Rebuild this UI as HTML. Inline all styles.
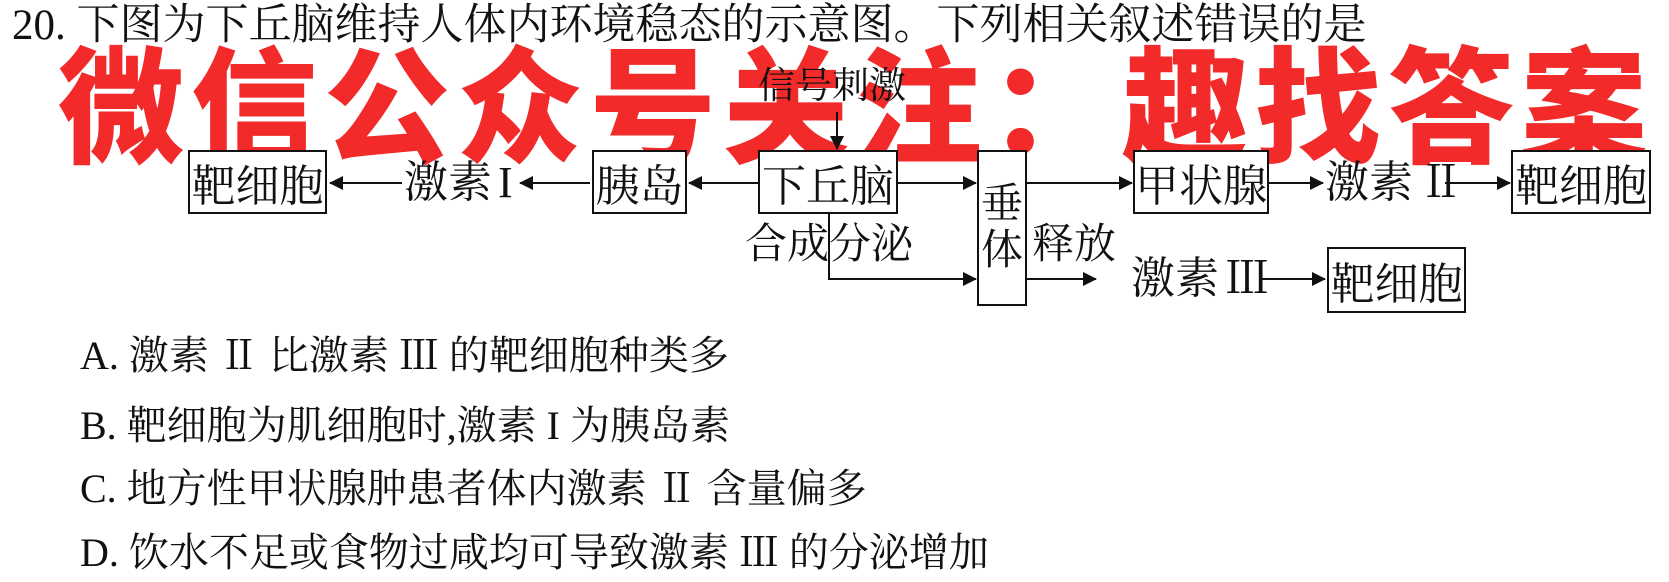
<!DOCTYPE html>
<html><head><meta charset="utf-8"><style>
html,body{margin:0;padding:0;background:#fff;}
body{width:1669px;height:582px;position:relative;overflow:hidden;font-family:"Liberation Serif","Noto Serif CJK SC",serif;color:#111;}
.t{position:absolute;white-space:nowrap;line-height:1;}
.box{position:absolute;border:2px solid #111;box-sizing:border-box;font-size:44px;display:flex;align-items:center;justify-content:center;background:#fff;}
.wm{position:absolute;left:58px;top:36px;font-family:"Noto Sans CJK SC",sans-serif;font-weight:900;font-size:126px;color:#f22a2a;letter-spacing:7px;white-space:nowrap;line-height:1;}
.r{margin-left:6px;}
</style></head><body>
<div class="t" style="left:12px;top:4px;font-size:43px;">20. 下图为下丘脑维持人体内环境稳态的示意图。下列相关叙述错误的是</div>
<div class="wm">微信公众号关注：趣找答案</div>
<svg width="1669" height="582" style="position:absolute;left:0;top:0" xmlns="http://www.w3.org/2000/svg">
<defs><marker id="a" markerWidth="14" markerHeight="14" refX="13" refY="7" orient="auto" markerUnits="userSpaceOnUse"><path d="M0,0 L14,7 L0,14 z" fill="#111"/></marker></defs>
<g stroke="#111" stroke-width="2" fill="none">
<line x1="402" y1="183" x2="330" y2="183" marker-end="url(#a)"/>
<line x1="590" y1="183" x2="520" y2="183" marker-end="url(#a)"/>
<line x1="758" y1="183" x2="689" y2="183" marker-end="url(#a)"/>
<line x1="837" y1="112" x2="837" y2="149" marker-end="url(#a)"/>
<line x1="897" y1="183" x2="976" y2="183" marker-end="url(#a)"/>
<polyline points="829,214 829,279 976,279" marker-end="url(#a)"/>
<line x1="1026" y1="183" x2="1132" y2="183" marker-end="url(#a)"/>
<line x1="1268" y1="183" x2="1323" y2="183" marker-end="url(#a)"/>
<line x1="1445" y1="183" x2="1510" y2="183" marker-end="url(#a)"/>
<line x1="1026" y1="279" x2="1096" y2="279" marker-end="url(#a)"/>
<line x1="1261" y1="279" x2="1325" y2="279" marker-end="url(#a)"/>
</g></svg>
<div class="t" style="left:758px;top:68px;font-size:37px;">信号刺激</div>
<div class="box" style="left:188px;top:150px;width:139px;height:64px;">靶细胞</div>
<div class="t" style="left:404px;top:161px;font-size:44px;">激素<span class="r">I</span></div>
<div class="box" style="left:592px;top:150px;width:95px;height:64px;">胰岛</div>
<div class="box" style="left:758px;top:150px;width:140px;height:64px;">下丘脑</div>
<div class="box" style="left:977px;top:150px;width:50px;height:156px;font-size:42px;line-height:1.1;text-align:center;">垂<br>体</div>
<div class="t" style="left:745px;top:224px;font-size:42px;">合成分泌</div>
<div class="t" style="left:1032px;top:224px;font-size:42px;">释放</div>
<div class="box" style="left:1133px;top:150px;width:136px;height:64px;">甲状腺</div>
<div class="t" style="left:1325px;top:161px;font-size:44px;">激素<span class="r">Ⅱ</span></div>
<div class="box" style="left:1511px;top:150px;width:140px;height:64px;">靶细胞</div>
<div class="t" style="left:1131px;top:257px;font-size:44px;">激素<span class="r">Ⅲ</span></div>
<div class="box" style="left:1327px;top:247px;width:139px;height:66px;">靶细胞</div>
<div class="t" style="left:80px;top:336px;font-size:40px;">A. 激素 Ⅱ 比激素 Ⅲ 的靶细胞种类多</div>
<div class="t" style="left:80px;top:406px;font-size:40px;">B. 靶细胞为肌细胞时,激素 I 为胰岛素</div>
<div class="t" style="left:80px;top:469px;font-size:40px;">C. 地方性甲状腺肿患者体内激素 Ⅱ 含量偏多</div>
<div class="t" style="left:80px;top:533px;font-size:40px;">D. 饮水不足或食物过咸均可导致激素 Ⅲ 的分泌增加</div>
</body></html>
